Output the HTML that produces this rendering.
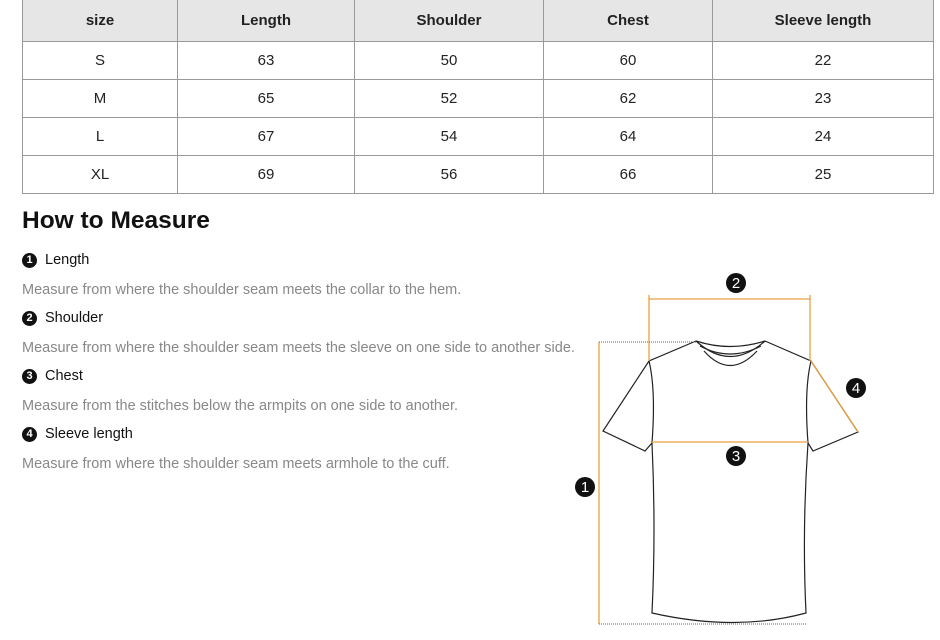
<!DOCTYPE html>
<html><head><meta charset="utf-8"><style>
body{margin:0;width:940px;height:640px;background:#fff;font-family:"Liberation Sans",sans-serif;position:relative;overflow:hidden}
table{position:absolute;left:22px;top:-1px;border-collapse:collapse;width:912px}
td{border:1px solid #999;text-align:center;font-size:15px;color:#222;height:37px;padding:0}
tr.h td{background:#e6e6e6;font-weight:bold;height:41px}
h2{position:absolute;left:22px;top:207px;margin:0;font-size:24.5px;font-weight:bold;color:#111}
.t{position:absolute;left:22px;font-size:14.5px;color:#111;display:flex;align-items:center}
.n{display:inline-block;width:15px;height:15px;border-radius:50%;background:#111;color:#fff;font-size:11px;font-weight:bold;text-align:center;line-height:15px;margin-right:8px}
.d{position:absolute;left:22px;font-size:14.5px;color:#888}
</style></head><body>
<table>
<tr class="h"><td style="width:154px">size</td><td style="width:176px">Length</td><td style="width:188px">Shoulder</td><td style="width:168px">Chest</td><td>Sleeve length</td></tr>
<tr><td>S</td><td>63</td><td>50</td><td>60</td><td>22</td></tr>
<tr><td>M</td><td>65</td><td>52</td><td>62</td><td>23</td></tr>
<tr><td>L</td><td>67</td><td>54</td><td>64</td><td>24</td></tr>
<tr><td>XL</td><td>69</td><td>56</td><td>66</td><td>25</td></tr>
</table>
<h2>How to Measure</h2>
<div class="t" style="top:252px"><span class="n">1</span>Length</div>
<div class="d" style="top:282px">Measure from where the shoulder seam meets the collar to the hem.</div>
<div class="t" style="top:310px"><span class="n">2</span>Shoulder</div>
<div class="d" style="top:340px">Measure from where the shoulder seam meets the sleeve on one side to another side.</div>
<div class="t" style="top:368px"><span class="n">3</span>Chest</div>
<div class="d" style="top:398px">Measure from the stitches below the armpits on one side to another.</div>
<div class="t" style="top:426px"><span class="n">4</span>Sleeve length</div>
<div class="d" style="top:456px">Measure from where the shoulder seam meets armhole to the cuff.</div>
<svg width="940" height="640" style="position:absolute;left:0;top:0" font-family="Liberation Sans">
<g fill="none" stroke="#222" stroke-width="1.2">
<path d="M696 341 L649 361 L603 431 L645 451 L652 443 Q656 390 649 361"/>
<path d="M765 341 L811 361 L858 432 L813 451 L808 443 Q804 390 811 361"/>
<path d="M652 443 Q656 530 652 613 Q736 632 806 613 Q802 530 808 443"/>
<path d="M696 341 Q730 372 765 341"/>
<path d="M700 346 Q730 362 761 346"/>
<path d="M704 351 Q730 380 757 351"/>
<path d="M696 341 Q730 352 765 341"/>
</g>
<g stroke="#e8a040" stroke-width="1.3" fill="none">
<path d="M649 295 V361 M810 295 V361 M649 299 H810"/>
<path d="M652 442 H808"/>
<path d="M811 361 L858 432"/>
<path d="M599 342 V624"/>
</g>
<g stroke="#666" stroke-width="1" stroke-dasharray="1,1">
<path d="M599 342 H696 M599 624 H806"/>
</g>
<g fill="#111"><circle cx="736" cy="283" r="10"/><circle cx="736" cy="456" r="10"/><circle cx="856" cy="388" r="10"/><circle cx="585" cy="487" r="10"/></g>
<g fill="#fff" font-size="15" text-anchor="middle"><text x="736" y="288">2</text><text x="736" y="461">3</text><text x="856" y="393">4</text><text x="585" y="492">1</text></g>
</svg>
</body></html>
